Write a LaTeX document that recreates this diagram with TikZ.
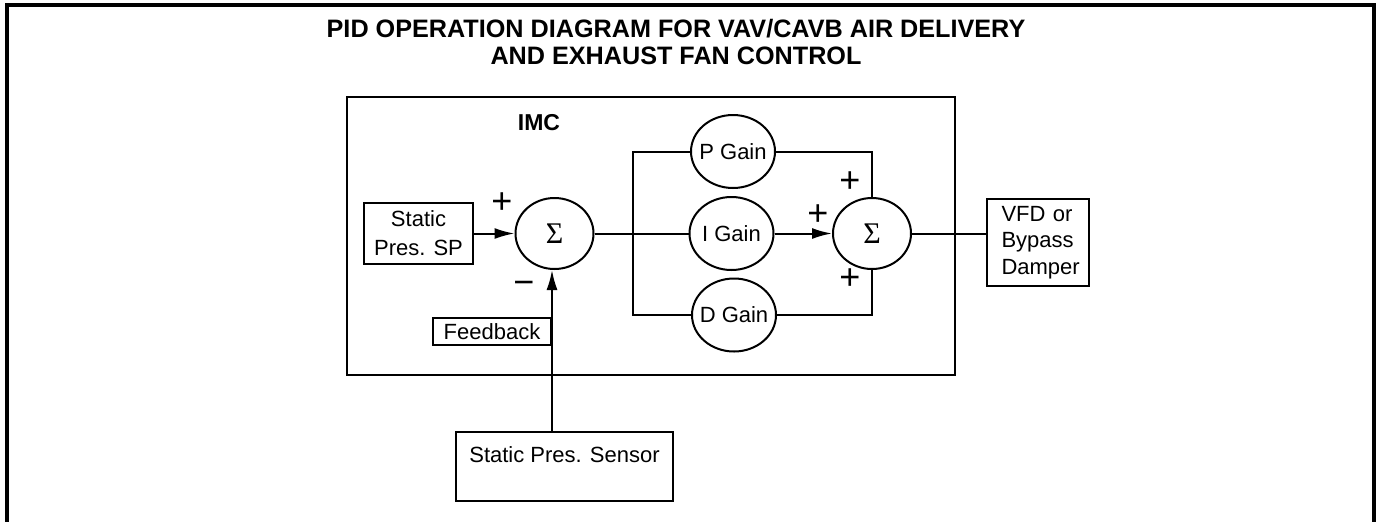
\documentclass[tikz,border=0pt]{standalone}
\usepackage{fontspec}
\setmainfont{Liberation Sans}
\newfontfamily\sigmafont{Liberation Serif}
\usetikzlibrary{shapes.geometric, arrows.meta}

\begin{document}
\begin{tikzpicture}[x=0.5pt, y=-0.5pt, line width=1pt, >={Latex[length=10pt, width=5.5pt]},
    txt/.style={font=\fontsize{11}{13.2}\selectfont},
    box/.style={draw, rectangle, inner sep=0pt, txt},
    gain/.style={draw, ellipse, inner sep=0pt, minimum width=42pt, minimum height=36.5pt,
        label={[txt, inner sep=0pt]center:#1}},
    summer/.style={draw, ellipse, inner sep=0pt, minimum width=39pt, minimum height=35.5pt,
        font=\sigmafont\fontsize{15}{15}\selectfont},
    sign/.style={inner sep=0pt, font=\fontsize{18}{18}\selectfont}]

    \useasboundingbox (0,0) rectangle (1376,521);

    % Outer frame
    \draw[line width=1.75pt] (7,540) -- (7,5) -- (1374,5) -- (1374,540);

    % Title
    \node[font=\bfseries\fontsize{12.6}{13.3}\selectfont, align=center] (title) at (676,42)
        {PID OPERATION DIAGRAM FOR VAV/CAVB AIR DELIVERY\\AND EXHAUST FAN CONTROL};

    % Controller
    \draw (347,97) rectangle (955,375);
    \node[font=\bfseries\fontsize{11.5}{13}\selectfont] (imclabel) at (539,123) {IMC};

    % Blocks
    \node[box, align=center, minimum width=54.5pt, minimum height=30.5pt,
        font=\fontsize{11}{14.5}\selectfont] (sp) at (418.5,233.5) {Static\\Pres. SP};
    \node[box, minimum width=59pt, minimum height=13.5pt] (fb) at (492,331.5) {Feedback};
    \node[box, minimum width=108.5pt, text height=8pt, text depth=11.8pt, inner ysep=7.35pt]
        (sensor) at (564.5,466.5) {Static Pres. Sensor};
    \node[box, align=left, text width=36pt, inner xsep=7.5pt, minimum height=43.5pt]
        (vfd) at (1037.5,242.5) {VFD or\\Bypass\\Damper};

    % Summing junctions
    \node[summer] (sum1) at (554.5,233.5) {Σ};
    \node[summer] (sum2) at (872,233.5) {Σ};

    % Gains
    \node[gain=P Gain] (pg) at (733,151.5) {};
    \node[gain=I Gain] (ig) at (731.5,233.5) {};
    \node[gain=D Gain] (dg) at (734,315) {};
    \coordinate (bus) at (633,233.5);

    % Signs
    \node[sign] (plus1) at (502,203) {+};
    \node[sign] (minus1) at (524,288) {−};
    \node[sign] (plus2) at (850,182) {+};
    \node[sign] (plus3) at (818,215.5) {+};
    \node[sign] (plus4) at (850,279) {+};

    % Connections
    \draw[->] (sp.east) -- (sum1.west);
    \draw[->] (sensor.north -| fb.east) -- (sum1.south -| fb.east);
    \draw (sum1.east) -- (ig.west);
    \draw (pg.west) -- (pg.west -| bus) -- (dg.west -| bus) -- (dg.west);
    \draw (pg.east) -- (pg.east -| sum2.north) -- (sum2.north);
    \draw (dg.east) -- (dg.east -| sum2.south) -- (sum2.south);
    \draw[->] (ig.east) -- (sum2.west);
    \draw (sum2.east) -- (sum2.east -| vfd.west);

\end{tikzpicture}
\end{document}
